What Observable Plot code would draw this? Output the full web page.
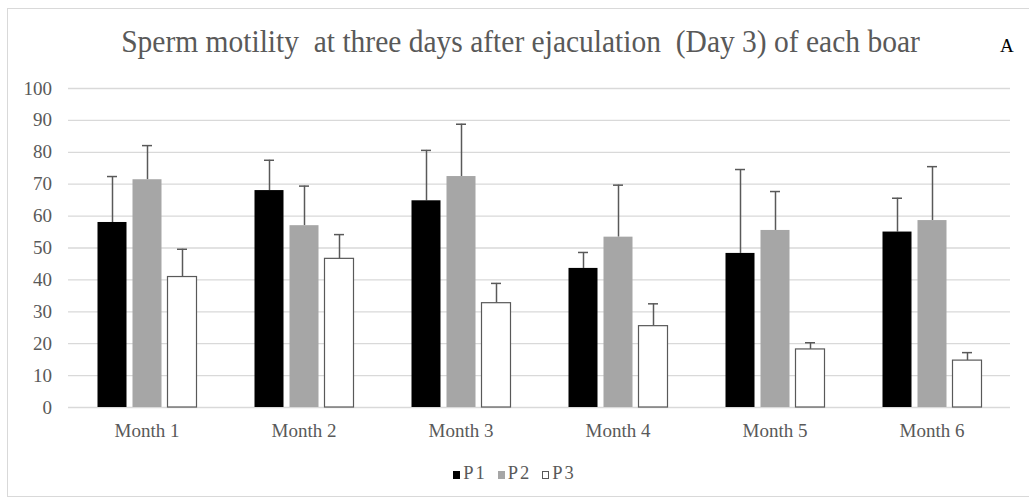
<!DOCTYPE html>
<html>
<head>
<meta charset="utf-8">
<script src="https://cdn.jsdelivr.net/npm/d3@7"></script>
<script src="https://cdn.jsdelivr.net/npm/@observablehq/plot@0.6"></script>
<style>
  html, body { margin: 0; padding: 0; background: #fff; }
  #wrap { position: relative; width: 1029px; height: 499px; overflow: hidden; background: #fff; font-family: "Liberation Serif", "Times New Roman", serif; }
  #border { position: absolute; left: 7px; top: 8px; width: 1040px; height: 489px; border: 1px solid #d9d9d9; box-sizing: border-box; }
  #title { position: absolute; left: 6px; width: 1029px; top: 28px; text-align: center; white-space: pre; font-size: 29.5px; color: #595959; line-height: 1; transform: scaleY(1.07); transform-origin: 50% 25px; }
  #letter { position: absolute; left: 1000px; top: 36px; font-size: 19px; color: #000; line-height: 1; }
  #chart { position: absolute; left: 0; top: 0; }
  #chart svg g[aria-label="y-axis tick label"] text { font-size: 19px; }
  #chart svg g[aria-label="fx-axis tick label"] text { font-size: 19px; }
  #legend { position: absolute; left: 0; width: 1029px; top: 463.5px; text-align: center; font-size: 18.5px; color: #595959; line-height: 1; white-space: pre; letter-spacing: 2px; }
  .sw { display: inline-block; width: 7px; height: 8px; box-sizing: border-box; margin-right: 3px; vertical-align: 0px; }
  .item { margin-left: 11px; }
  .item:first-child { margin-left: 0; }
</style>
</head>
<body>
<div id="wrap">
  <div id="border"></div>
  <div id="chart"></div>
  <div id="title"></div>
  <div id="letter">A</div>
  <div id="legend"></div>
</div>
<script>
const titleText = "Sperm motility  at three days after ejaculation  (Day 3) of each boar";
const panelLetter = "A";
const months = ["Month 1", "Month 2", "Month 3", "Month 4", "Month 5", "Month 6"];
const seriesNames = ["P1", "P2", "P3"];
const seriesColors = ["#000000", "#a6a6a6", "#ffffff"];
const p1 = [58, 68, 64.8, 43.6, 48.3, 55];
const p1Sd = [14.4, 9.5, 15.8, 5, 26.3, 10.6];
const p2 = [71.4, 57, 72.4, 53.4, 55.5, 58.6];
const p2Sd = [10.7, 12.4, 16.4, 16.3, 12.2, 16.9];
const p3 = [40.9, 46.6, 32.7, 25.5, 18.2, 14.7];
const p3Sd = [8.7, 7.6, 6.2, 7, 2.1, 2.5];
const yTicks = [0, 10, 20, 30, 40, 50, 60, 70, 80, 90, 100];

document.getElementById("title").textContent = titleText;
document.getElementById("letter").textContent = panelLetter;

const vals = [p1, p2, p3];
const sds = [p1Sd, p2Sd, p3Sd];
const data = [];
months.forEach((m, i) => {
  seriesNames.forEach((s, j) => {
    data.push({month: m, series: s, value: vals[j][i], top: vals[j][i] + sds[j][i]});
  });
});

const chart = Plot.plot({
  width: 1029,
  height: 460,
  marginTop: 88,
  marginBottom: 53,
  marginLeft: 67.5,
  marginRight: 19.5,
  style: {fontFamily: "Liberation Serif, Times New Roman, serif", fontSize: "19px", color: "#595959", background: "transparent"},
  fx: {domain: months, padding: 0, label: null},
  x: {domain: seriesNames, axis: null, paddingInner: 0.18, paddingOuter: 0.78},
  y: {domain: [0, 100], axis: null},
  color: {domain: seriesNames, range: seriesColors},
  marks: [
    Plot.ruleY(yTicks, {stroke: "#d9d9d9", strokeWidth: 1.3}),
    Plot.axisY({ticks: yTicks, tickSize: 0, tickPadding: 16.5, label: null, fontSize: 19, fill: "#595959"}),
    Plot.axisFx({anchor: "bottom", tickSize: 0, tickPadding: 16, label: null, fontSize: 19, fill: "#595959"}),
    Plot.ruleX(data, {fx: "month", x: "series", y1: "value", y2: "top", stroke: "#595959", strokeWidth: 1.5}),
    Plot.tickY(data, {fx: "month", x: "series", y: "top", stroke: "#595959", strokeWidth: 1.5, insetLeft: 9.5, insetRight: 9.5}),
    Plot.barY(data, {fx: "month", x: "series", y: "value", fill: "series", stroke: d => d.series === "P3" ? "#595959" : "none", strokeWidth: 1.2})
  ]
});
document.getElementById("chart").appendChild(chart);

const legend = document.getElementById("legend");
seriesNames.forEach((s, j) => {
  const item = document.createElement("span");
  item.className = "item";
  const sw = document.createElement("span");
  sw.className = "sw";
  sw.style.background = seriesColors[j];
  sw.style.border = j === 2 ? "1px solid #595959" : "none";
  item.appendChild(sw);
  item.appendChild(document.createTextNode(s));
  legend.appendChild(item);
});
</script>
</body>
</html>
